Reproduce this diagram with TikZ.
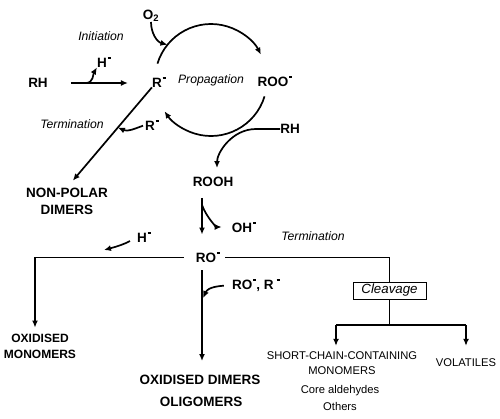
\documentclass[tikz,border=0pt]{standalone}
\usepackage{fontspec}
\setmainfont{Liberation Sans}
\usetikzlibrary{arrows.meta,calc}
\newcommand{\radot}{\kern0.06em\raisebox{0.62em}{\rule{0.24em}{0.15em}}}
\begin{document}
\begin{tikzpicture}[x=1pt,y=-1pt,
  bigb/.style={font=\fontsize{13.5}{17}\bfseries\selectfont, inner sep=0pt},
  medb/.style={font=\fontsize{12}{16}\bfseries\selectfont, inner sep=0pt},
  reg/.style={font=\fontsize{11.2}{15}\selectfont, inner sep=0pt},
  ital/.style={font=\fontsize{12.2}{14}\itshape\selectfont, inner sep=0pt},
  clbox/.style={draw, line width=0.9pt, font=\fontsize{13.3}{15}\itshape\selectfont, inner sep=0pt, minimum width=73pt, minimum height=17pt},
  main/.style={line width=1.7pt},
  thinl/.style={line width=0.9pt},
  tip/.style={-{Latex[length=7pt,width=6pt]}}]
\useasboundingbox (0,0) rectangle (500,418);
% nodes
\node[bigb] (RH) at (38,83) {RH};
\node[bigb] (R) at (159,82) {R\radot};
\node[bigb] (ROO) at (275,81) {ROO\radot};
\node[bigb] (O2) at (151,16) {O\textsubscript{2}};
\node[ital] (Init) at (101,36) {Initiation};
\node[ital] (Prop) at (211,80) {Propagation};
\node[bigb] (H1) at (104,62) {H\radot};
\node[bigb] (RH2) at (290,129) {RH};
\node[bigb] (ROOH) at (213,182) {ROOH};
\node[bigb, align=center] (NPD) at (67,201) {NON-POLAR\\DIMERS};
\node[bigb] (R2) at (152,125) {R\radot};
\node[ital] (Term1) at (72,124) {Termination};
\node[bigb] (OH) at (244,227) {OH\radot};
\node[ital] (Term2) at (313,236) {Termination};
\node[bigb] (RO) at (208,257) {RO\radot};
\node[bigb] (H2) at (144,237) {H\radot};
\node[medb, align=center] (OXM) at (40,346) {OXIDISED\\MONOMERS};
\node[bigb] (ROR) at (256,285) {RO\radot, R\,\radot};
\node[bigb] (OXD) at (200,380) {OXIDISED DIMERS};
\node[bigb] (OLI) at (201,402) {OLIGOMERS};
\node[clbox] (Clv) at (389.5,290.5) {Cleavage};
\node[reg, align=center] (SCC) at (342,363.5) {SHORT-CHAIN-CONTAINING\\MONOMERS};
\node[reg] (Core) at (340,391) {Core aldehydes};
\node[reg] (Oth) at (340,406) {Others};
\node[reg] (VOL) at (466,363) {VOLATILES};
% coordinates
\coordinate (cyc) at (211,80);
\coordinate (h1s) at (86,83);
\coordinate (vx) at (202,0);
\coordinate (ohs) at (202,205);
\coordinate (lc) at (35,257);
\coordinate (h2e) at (104,250);
\coordinate (rore) at (203,298);
\coordinate (bar) at (389.5,325);
\coordinate (bl) at (336,325);
\coordinate (br) at (466,325);
\coordinate (tm) at ($(R.south west)!0.4!(NPD.north)$);
% initiation
\draw[main,tip,shorten <=23pt,shorten >=24pt] (RH.east) -- (RH.east -| R.west);
\draw[main,tip] (h1s) to[out=0,in=-120] (H1.south west);
% propagation cycle
\draw[main,tip] ($(cyc)+(163:56pt)$) arc[start angle=163,end angle=27,radius=56pt];
\draw[main,tip] ($(cyc)+(-17:56pt)$) arc[start angle=-17,end angle=-146,radius=56pt];
\draw[main,tip] (O2.south) to[out=-90,in=165] ($(cyc)+(141:56pt)$);
\draw[main,tip,shorten >=9pt] (RH2.west) -- ++(-24,0) to[out=180,in=90] ($(ROOH.north)+(4,0)$);
% termination 1
\draw[main,tip,shorten >=9pt] (R.south west) -- (NPD.north);
\draw[main,tip,shorten <=2pt] (R2.west) to[out=200,in=-25] (tm);
% ROOH to RO
\draw[main,tip,shorten <=11pt,shorten >=17pt] (ROOH.south -| vx) -- (RO.north -| vx);
\draw[main,tip,shorten >=10pt] (ohs) to[out=-70,in=180] (OH.west);
% left branch
\draw[thinl,shorten <=12pt] (RO.west) -- (lc);
\draw[main,tip,shorten >=6pt] (lc) -- (lc |- OXM.north);
\draw[main,tip,shorten <=8pt] (H2.west) to[out=-150,in=15] (h2e);
% down branch
\draw[main,tip,shorten <=8pt,shorten >=14pt] (RO.south -| vx) -- (OXD.north -| vx);
\draw[main,tip,shorten <=8pt] (ROR.west) to[out=185,in=65] (rore);
% right branch
\draw[thinl,shorten <=5pt] (RO.east) -| (Clv.north);
\draw[thinl] (Clv.south) -- (bar);
\draw[main] (bl) -- (br);
\draw[main,tip,shorten >=6pt] (bl) -- (bl |- SCC.north);
\draw[main,tip,shorten >=13pt] (br) -- (VOL.north);
\end{tikzpicture}
\end{document}
